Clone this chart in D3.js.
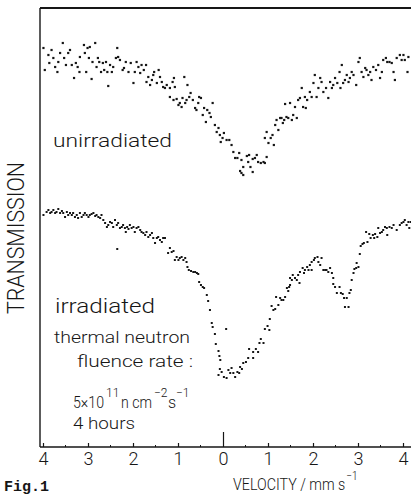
<!DOCTYPE html>
<html><head><meta charset="utf-8">
<script src="https://cdn.jsdelivr.net/npm/d3@7"></script>
<style>body{margin:0;background:#fff}svg{display:block}</style>
</head><body>
<svg id="c" width="411" height="497"></svg>
<script>
// ---- data (velocity mm/s, transmission in arbitrary units) ----
const velocityTicks = [-4,-3,-2,-1,0,1,2,3,4];
const halfTicks = [-3.5,-2.5,-1.5,-0.5,0.5,1.5,2.5,3.5];
const unirradiated = [[-3.99,39.9],[-3.96,37.7],[-3.88,39.2],[-3.86,38.4],[-3.81,39.7],[-3.77,38.9],[-3.73,38.0],[-3.68,37.5],[-3.66,38.5],[-3.62,39.4],[-3.56,40.4],[-3.53,38.9],[-3.49,38.2],[-3.44,39.4],[-3.40,39.7],[-3.36,38.2],[-3.31,36.9],[-3.27,38.4],[-3.23,38.0],[-3.19,37.5],[-3.18,39.0],[-3.09,40.2],[-3.07,39.4],[-3.04,37.5],[-3.01,39.9],[-2.98,38.9],[-2.96,40.0],[-2.92,36.8],[-2.90,38.5],[-2.84,40.4],[-2.81,38.0],[-2.78,38.9],[-2.75,38.5],[-2.71,37.5],[-2.67,38.4],[-2.64,37.7],[-2.60,38.5],[-2.57,37.5],[-2.55,36.1],[-2.51,38.2],[-2.47,37.5],[-2.44,38.0],[-2.38,38.9],[-2.35,39.9],[-2.33,39.0],[-2.29,38.7],[-2.23,37.7],[-2.20,37.9],[-2.16,38.5],[-2.10,37.5],[-2.05,38.4],[-1.99,36.4],[-1.96,37.5],[-1.92,38.5],[-1.88,38.0],[-1.84,37.4],[-1.81,38.2],[-1.76,37.7],[-1.71,38.2],[-1.70,36.5],[-1.66,37.0],[-1.62,36.2],[-1.58,36.7],[-1.55,37.2],[-1.53,37.5],[-1.47,36.4],[-1.43,37.7],[-1.40,37.0],[-1.36,36.5],[-1.33,36.0],[-1.29,35.9],[-1.25,36.2],[-1.18,35.9],[-1.12,36.5],[-1.09,36.9],[-1.07,36.0],[-1.18,35.0],[-1.10,34.7],[-1.03,34.8],[-0.99,34.2],[-0.96,34.4],[-0.92,34.0],[-0.90,34.9],[-0.86,37.0],[-0.84,34.4],[-0.81,34.7],[-0.79,36.2],[-0.75,35.0],[-0.72,35.4],[-0.67,34.7],[-0.62,33.9],[-0.59,33.7],[-0.55,34.4],[-0.53,35.0],[-0.49,34.9],[-0.45,33.2],[-0.42,33.9],[-0.38,32.5],[-0.35,33.7],[-0.30,33.4],[-0.27,33.0],[-0.23,34.4],[-0.18,32.2],[-0.14,31.5],[-0.10,31.9],[-0.07,31.2],[-0.05,30.5],[-0.01,30.9],[0.02,31.4],[0.08,30.7],[0.14,30.7],[0.19,30.2],[0.23,29.5],[0.27,28.9],[0.32,28.9],[0.36,29.4],[0.41,28.7],[0.45,28.0],[0.53,29.1],[0.56,28.5],[0.58,29.2],[0.61,28.0],[0.66,28.8],[0.71,28.9],[0.75,29.2],[0.78,28.5],[0.84,28.4],[0.90,28.5],[0.93,28.4],[0.38,27.6],[0.41,27.4],[0.45,27.2],[0.66,27.5],[0.97,29.0],[0.93,30.9],[0.97,31.5],[1.01,30.4],[1.06,30.9],[1.10,31.2],[1.13,30.2],[1.16,32.2],[1.19,32.7],[1.23,31.7],[1.27,32.9],[1.30,32.9],[1.33,32.4],[1.36,32.7],[1.38,34.3],[1.41,33.0],[1.45,32.9],[1.49,34.4],[1.53,32.7],[1.56,33.2],[1.60,34.0],[1.64,32.9],[1.67,34.7],[1.71,34.9],[1.75,35.9],[1.78,34.0],[1.82,35.0],[1.84,33.9],[1.87,34.7],[1.93,35.5],[1.97,35.0],[2.01,36.4],[2.04,37.2],[2.08,35.0],[2.12,35.9],[2.16,36.9],[2.19,36.5],[2.23,35.5],[2.29,35.9],[2.34,34.9],[2.38,36.5],[2.42,35.9],[2.45,36.2],[2.49,36.9],[2.54,36.4],[2.59,37.5],[2.61,35.9],[2.64,38.2],[2.67,36.4],[2.71,36.7],[2.75,37.2],[2.79,36.5],[2.82,36.9],[2.86,37.5],[2.90,37.2],[2.96,36.2],[3.01,38.5],[3.04,38.9],[3.08,37.5],[3.12,37.0],[3.16,37.9],[3.19,37.7],[3.23,37.2],[3.27,37.5],[3.30,36.7],[3.34,38.0],[3.40,37.7],[3.45,38.2],[3.49,36.9],[3.53,37.5],[3.56,38.7],[3.62,38.9],[3.65,38.5],[3.70,38.5],[3.75,38.4],[3.79,37.5],[3.82,36.7],[3.86,38.9],[3.93,39.2],[3.97,38.7],[4.01,39.2],[4.04,38.7],[4.10,37.5],[4.12,39.0]];
const irradiated = [[-3.99,23.2],[-3.92,23.5],[-3.88,23.7],[-3.84,23.4],[-3.81,23.5],[-3.77,23.7],[-3.73,23.4],[-3.70,23.5],[-3.66,23.8],[-3.62,23.4],[-3.58,23.6],[-3.55,23.4],[-3.51,23.0],[-3.47,23.5],[-3.44,23.2],[-3.40,23.4],[-3.36,23.2],[-3.33,23.4],[-3.29,23.0],[-3.25,23.2],[-3.22,22.9],[-3.18,23.4],[-3.14,23.0],[-3.10,23.2],[-3.07,23.4],[-3.03,23.2],[-2.99,23.0],[-2.96,23.2],[-2.92,23.3],[-2.88,23.4],[-2.84,23.1],[-2.81,23.2],[-2.77,23.0],[-2.73,22.9],[-2.70,23.2],[-2.66,22.7],[-2.62,22.4],[-2.58,22.0],[-2.55,22.2],[-2.51,22.5],[-2.47,22.4],[-2.44,22.0],[-2.40,22.7],[-2.36,22.2],[-2.33,22.4],[-2.35,19.8],[-2.29,21.9],[-2.25,22.0],[-2.22,22.2],[-2.18,21.9],[-2.16,21.5],[-2.13,22.0],[-2.10,21.8],[-2.07,22.2],[-2.03,21.9],[-1.99,22.0],[-1.96,21.5],[-1.92,21.9],[-1.88,22.0],[-1.84,21.7],[-1.81,21.5],[-1.77,21.4],[-1.73,21.2],[-1.70,21.5],[-1.66,21.0],[-1.62,21.2],[-1.58,21.4],[-1.55,20.9],[-1.51,20.4],[-1.47,20.9],[-1.44,21.0],[-1.40,20.7],[-1.36,20.5],[-1.33,20.9],[-1.29,20.9],[-1.22,19.4],[-1.18,19.9],[-1.14,19.5],[-1.10,19.6],[-1.07,18.7],[-1.03,19.0],[-0.99,18.7],[-0.96,18.9],[-0.92,19.0],[-0.88,18.7],[-0.84,18.9],[-0.81,18.5],[-0.79,18.0],[-0.76,17.7],[-0.71,17.6],[-0.66,17.5],[-0.62,17.5],[-0.58,17.4],[-0.55,17.3],[-0.53,16.5],[-0.49,16.2],[-0.45,16.0],[-0.42,15.9],[-0.36,15.2],[-0.33,14.6],[-0.29,13.7],[-0.25,12.4],[-0.23,12.0],[-0.18,11.3],[-0.16,10.3],[-0.10,9.6],[-0.08,9.1],[-0.06,8.7],[-0.07,7.8],[-0.10,7.2],[-0.03,7.5],[0.02,7.0],[0.08,6.9],[0.12,7.7],[0.16,7.4],[0.19,7.9],[0.23,7.4],[0.27,7.0],[0.32,7.5],[0.36,7.4],[0.38,8.0],[0.42,7.8],[0.45,8.4],[0.51,8.5],[0.56,8.9],[0.67,8.9],[0.58,9.8],[0.67,9.5],[0.73,9.8],[0.78,9.5],[0.81,10.4],[0.84,10.8],[0.90,10.4],[0.93,11.8],[0.99,12.1],[1.03,11.7],[1.04,12.8],[1.08,14.1],[1.12,13.7],[1.16,13.8],[1.18,15.0],[1.23,14.2],[1.27,14.9],[1.30,14.7],[1.34,14.7],[1.38,15.0],[1.42,15.9],[1.45,15.6],[1.47,16.0],[1.49,16.9],[1.49,16.2],[1.53,16.7],[1.55,17.2],[1.60,16.9],[1.64,16.7],[1.67,17.2],[1.70,16.4],[1.71,17.5],[1.77,17.9],[1.80,17.4],[1.82,17.7],[1.87,18.0],[1.90,17.7],[1.93,18.2],[1.97,17.7],[1.97,18.5],[2.02,18.7],[2.04,18.9],[2.10,19.0],[2.12,18.5],[2.16,18.2],[2.19,18.9],[2.23,17.7],[2.27,17.7],[2.30,17.7],[2.34,17.5],[2.38,17.9],[2.42,17.4],[2.45,16.9],[2.45,16.3],[2.49,16.0],[2.53,15.4],[2.59,16.0],[2.62,15.4],[2.66,15.3],[2.69,14.9],[2.71,14.0],[2.75,14.9],[2.79,14.0],[2.81,15.4],[2.84,15.7],[2.86,16.7],[2.90,17.4],[2.92,17.8],[2.96,17.9],[2.97,18.4],[3.01,18.0],[3.04,19.3],[3.06,20.1],[3.10,20.3],[3.13,20.4],[3.18,21.5],[3.21,20.5],[3.25,21.3],[3.28,20.9],[3.33,21.2],[3.36,20.9],[3.38,21.3],[3.43,21.0],[3.45,21.9],[3.49,21.4],[3.53,21.5],[3.56,21.7],[3.60,22.0],[3.64,21.9],[3.65,21.2],[3.70,22.0],[3.75,21.9],[3.79,22.2],[3.86,21.7],[3.93,22.2],[3.97,22.4],[4.01,22.5],[4.04,22.7],[4.08,22.2],[4.12,22.5],[4.14,21.9],[4.17,22.5],[0.07,11.8]];

// ---- layout ----
const ink = "#161616";
const font = "Roboto,'DejaVu Sans Condensed','DejaVu Sans',sans-serif";
const weight = 300;
const frame = {left: 40, right: 411, top: 8, bottom: 447};
const x = d3.scaleLinear().domain([-4, 4]).range([43, 403]);
const y = d3.scaleLinear().domain([0, 43.9]).range([frame.bottom, frame.top]);

const svg = d3.select("#c");
svg.append("rect").attr("width", 411).attr("height", 497).attr("fill", "#fff");

// frame lines
svg.append("line").attr("x1", frame.left).attr("x2", frame.right).attr("y1", frame.top).attr("y2", frame.top)
  .attr("stroke", ink).attr("stroke-width", 1.8);
svg.append("line").attr("x1", frame.left).attr("x2", frame.left).attr("y1", frame.top).attr("y2", frame.bottom)
  .attr("stroke", ink).attr("stroke-width", 1.4);
svg.append("line").attr("x1", frame.left).attr("x2", frame.right).attr("y1", frame.bottom).attr("y2", frame.bottom)
  .attr("stroke", ink).attr("stroke-width", 1.6);

// bottom axis
const ax = svg.append("g").attr("transform", `translate(0,${frame.bottom})`)
  .call(d3.axisBottom(x).tickValues(velocityTicks).tickSize(-4).tickPadding(5)
        .tickFormat(d => Math.abs(d)));
ax.select(".domain").remove();
ax.selectAll(".tick line").attr("stroke", ink).attr("stroke-width", 1.2)
  .attr("y2", d => d === 0 ? -15 : -4);
ax.selectAll(".tick text").attr("fill", ink).style("font-family", font)
  .style("font-weight", weight).style("font-size", "18px");

svg.append("g").selectAll("line").data(halfTicks).join("line")
  .attr("x1", d => x(d)).attr("x2", d => x(d))
  .attr("y1", frame.bottom).attr("y2", frame.bottom - 2)
  .attr("stroke", ink).attr("stroke-width", 1);

// data points
svg.append("g").selectAll("rect").data(unirradiated).join("rect")
  .attr("x", d => x(d[0]) - 1.1).attr("y", d => y(d[1]) - 1.1)
  .attr("width", 2.2).attr("height", 2.2).attr("fill", ink);
svg.append("g").selectAll("rect").data(irradiated).join("rect")
  .attr("x", d => x(d[0]) - 1).attr("y", d => y(d[1]) - 1)
  .attr("width", 2).attr("height", 2).attr("fill", ink);

// texts
function txt(s, px, py, size, len) {
  const t = svg.append("text").attr("x", px).attr("y", py).text(s)
    .attr("fill", ink).style("font-family", font).style("font-weight", weight)
    .style("font-size", size + "px");
  if (len) t.attr("textLength", len).attr("lengthAdjust", "spacingAndGlyphs");
  return t;
}
svg.append("text").text("TRANSMISSION")
  .attr("transform", "translate(24,238) rotate(-90)")
  .attr("text-anchor", "middle").attr("fill", ink)
  .attr("textLength", 152).attr("lengthAdjust", "spacingAndGlyphs")
  .style("font-family", font).style("font-weight", weight).style("font-size", "23px");

txt("unirradiated", 53, 147, 19, 119);
txt("irradiated", 55, 313, 20, 100);
txt("thermal neutron", 54, 343, 16, 136);
txt("fluence rate :", 77, 367, 16, 116);

// fluence line: one text with superscript tspans
const fl = svg.append("text").attr("x", 73).attr("y", 408).attr("fill", ink)
  .style("font-family", font).style("font-weight", weight).style("font-size", "16px");
fl.append("tspan").text("5×10").attr("textLength", 31).attr("lengthAdjust", "spacingAndGlyphs");
fl.append("tspan").text("11").attr("x", 106).attr("dy", -11).style("font-size", "12px");
fl.append("tspan").text("n cm").attr("x", 121).attr("dy", 11).attr("textLength", 31).attr("lengthAdjust", "spacingAndGlyphs");
fl.append("tspan").text("−2").attr("x", 154).attr("dy", -11).style("font-size", "12px");
fl.append("tspan").text("s").attr("x", 168).attr("dy", 11);
fl.append("tspan").text("−1").attr("x", 176).attr("dy", -11).style("font-size", "12px");

txt("4 hours", 73, 429, 16, 62);

// axis title, horizontally condensed with a transform so its box is honest
const vl = svg.append("text").attr("transform", "translate(233,490) scale(0.84,1)").attr("fill", ink)
  .style("font-family", font).style("font-weight", weight).style("font-size", "17px");
vl.append("tspan").text("VELOCITY / mm s");
vl.append("tspan").text("−1").attr("dx", 1).attr("dy", -10).style("font-size", "12px");

svg.append("text").text("Fig.1").attr("x", 4).attr("y", 491)
  .attr("fill", ink).style("font-family", "'Liberation Mono','DejaVu Sans Mono',monospace")
  .style("font-size", "15px").style("font-weight", "bold");
</script>
</body></html>
